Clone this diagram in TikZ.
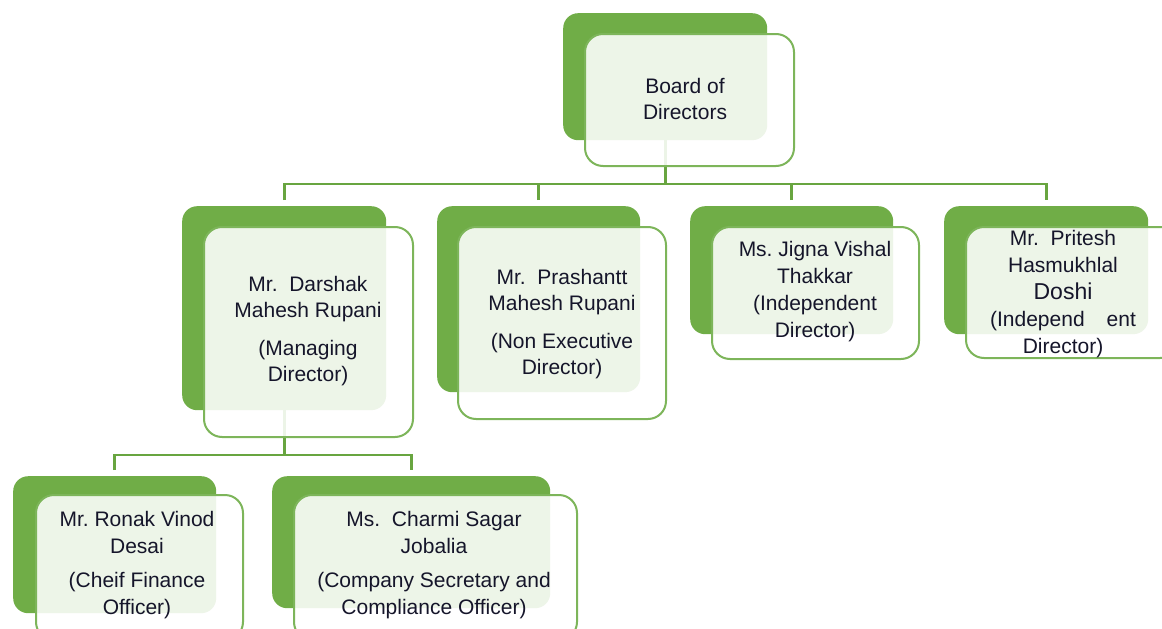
\documentclass[tikz,border=0pt]{standalone}
\usepackage{fontspec}
\setmainfont{Liberation Sans}
\pgfdeclarelayer{bg}
\pgfsetlayers{bg,main}
\definecolor{gr}{HTML}{70AD47}
\definecolor{grl}{HTML}{7DB55A}
\definecolor{grc}{HTML}{68A540}
\definecolor{ink}{HTML}{15152A}
\begin{document}
\begin{tikzpicture}[x=1pt,y=-1pt,
  back/.style={fill=gr, draw=none, rounded corners=15pt, inner sep=0pt, anchor=north west},
  front/.style={fill=white, fill opacity=0.88, draw=grl, line width=2pt, rounded corners=18pt, inner sep=0pt, anchor=north west},
  txt/.style={align=center, font=\fontsize{21}{26}\selectfont, text=ink},
  txtw/.style={align=center, font=\fontsize{21}{27}\selectfont, text=ink},
  conn/.style={draw=grc, line width=2.6pt, line join=miter}]
\useasboundingbox (0,0) rectangle (1162,629);
\clip (0,0) rectangle (1162,629);
% Board
\node[back, minimum width=204pt, minimum height=127pt] (b0) at (563,13) {};
\node[front, minimum width=209pt, minimum height=132pt] (f0) at (584,33) {};
\node[txt] (t0) at (685,98.5) {Board of\\Directors};
% Level 2
\node[back, minimum width=204pt, minimum height=204pt] (b1) at (182,206) {};
\node[front, minimum width=209pt, minimum height=210pt] (f1) at (203,226) {};
\node[txt] (t1) at (308,331) {Mr.\ \ Darshak\\Mahesh Rupani\\[12pt](Managing\\Director)};
\node[back, minimum width=203pt, minimum height=186pt] (b2) at (437,206) {};
\node[front, minimum width=208pt, minimum height=192pt] (f2) at (457,226) {};
\node[txt] (t2) at (562,324) {Mr.\ \ Prashantt\\Mahesh Rupani\\[12pt](Non Executive\\Director)};
\node[back, minimum width=203pt, minimum height=128pt] (b3) at (690,206) {};
\node[front, minimum width=207pt, minimum height=132pt] (f3) at (711,226) {};
\node[txtw] (t3) at (815,292) {Ms.\ Jigna Vishal\\Thakkar\\(Independent\\Director)};
\node[back, minimum width=204pt, minimum height=128pt] (b4) at (944,206) {};
\node[front, minimum width=212pt, minimum height=131pt] (f4) at (965,226) {};
\node[txtw] (t4) at (1063,294) {Mr.\ \ Pritesh\\Hasmukhlal\\{\fontsize{23}{27}\selectfont Doshi}\\(Independ\hspace{22pt}ent\\Director)};
% Level 3
\node[back, minimum width=203pt, minimum height=137pt] (b5) at (13,476) {};
\node[front, minimum width=207pt, minimum height=145pt] (f5) at (35,494) {};
\node[txtw] (t5) at (137,565.5) {Mr.\ Ronak Vinod\\Desai\\[7pt](Cheif Finance\\Officer)};
\node[back, minimum width=278pt, minimum height=132pt] (b6) at (272,476) {};
\node[front, minimum width=283pt, minimum height=145pt] (f6) at (293,494) {};
\node[txtw] (t6) at (434,565.5) {Ms.\ \ Charmi Sagar\\Jobalia\\[7pt](Company Secretary and\\Compliance Officer)};
% connectors
\begin{pgfonlayer}{bg}
\coordinate (bus1) at (0,184);
\coordinate (bus2) at (0,455);
\draw[conn] (b0.south) -- (b0.south |- bus1);
\draw[conn, shorten <=6pt, shorten >=6pt] (b1.north) -- (b1.north |- bus1) -- (b4.north |- bus1) -- (b4.north);
\draw[conn, shorten <=6pt] (b2.north) -- (b2.north |- bus1);
\draw[conn, shorten <=6pt] (b3.north) -- (b3.north |- bus1);
\draw[conn] (b1.south) -- (b1.south |- bus2);
\draw[conn, shorten <=6pt, shorten >=6pt] (b5.north) -- (b5.north |- bus2) -- (b6.north |- bus2) -- (b6.north);
\end{pgfonlayer}
\end{tikzpicture}
\end{document}
